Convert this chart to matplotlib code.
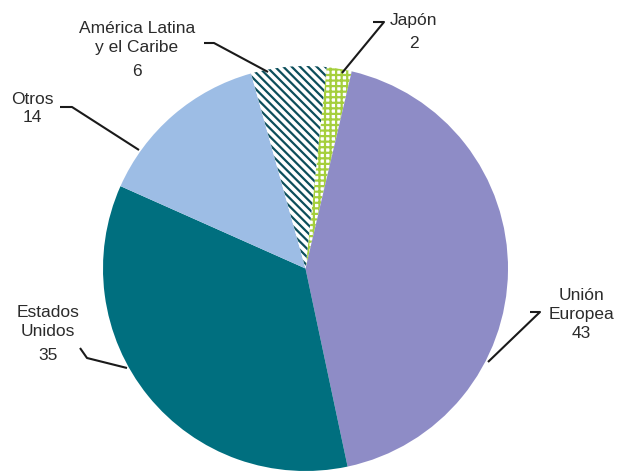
import numpy as np
import matplotlib.pyplot as plt

plt.rcParams['font.family'] = ['Liberation Sans', 'DejaVu Sans']
plt.rcParams['hatch.linewidth'] = 1.6

# participacion por region (%)
regiones = ['Japón', 'Unión\nEuropea', 'Estados\nUnidos', 'Otros', 'América Latina\ny el Caribe']
valores = [2, 43, 35, 14, 6]

colores = ['white', '#8E8CC6', '#006F7F', '#9DBDE5', 'white']
tramas = ['+++', None, None, None, '\\\\\\\\']
color_trama = ['#A5CF3C', 'none', 'none', 'none', '#0C4F5C']

W, H = 617, 471
cx, cy, r = 305.5, 268.5, 202.5

fig = plt.figure(figsize=(W / 100, H / 100), dpi=100)
ax = fig.add_axes([0, 0, 1, 1])

wedges, _ = ax.pie(valores, colors=colores, startangle=84, counterclock=False,
                   center=(cx, H - cy), radius=r, frame=True,
                   wedgeprops=dict(linewidth=0))
for w, h, ec in zip(wedges, tramas, color_trama):
    if h:
        w.set_hatch(h)
        w.set_edgecolor(ec)
        w.set_linewidth(0)

ax.set_xlim(0, W)
ax.set_ylim(0, H)
ax.set_aspect('auto')
ax.axis('off')

# etiquetas: (x, y del nombre, y del valor) en pixeles desde arriba
pos_etiquetas = [
    (414, 20, 43),
    (581, 305, 333),
    (48, 322, 355),
    (32, 100, 118),
    (137, 38, 71),
]
# lineas guia (pixeles desde arriba)
guias = [
    [(373, 22), (384, 22), (342, 73)],
    [(530, 312), (540, 312), (488, 362)],
    [(80, 348), (87, 358), (127, 368)],
    [(60, 107), (72, 107), (139, 150)],
    [(204, 43), (214, 43), (268, 72)],
]

txt = '#2b2b2b'
for nombre, val, (x, yn, yv), g in zip(regiones, valores, pos_etiquetas, guias):
    ax.text(x, H - yn, nombre, ha='center', va='center', fontsize=12.5,
            color=txt, linespacing=1.28)
    ax.text(x, H - yv, str(val), ha='center', va='center', fontsize=12.5, color=txt)
    gx = [p[0] for p in g]
    gy = [H - p[1] for p in g]
    ax.plot(gx, gy, color='#1a1a1a', lw=1.5, solid_capstyle='butt')

fig.savefig('out.png', dpi=100)
